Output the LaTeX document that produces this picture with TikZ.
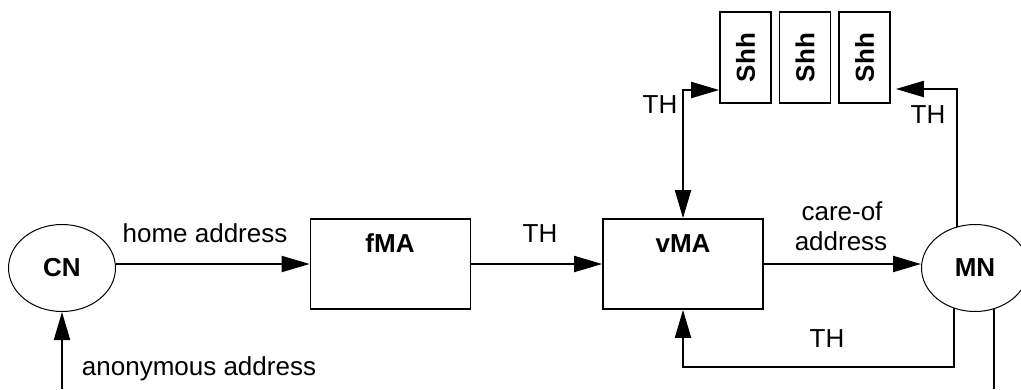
\documentclass[tikz,border=0pt]{standalone}
\usepackage{fontspec}
\usepackage{graphicx}
\setmainfont{Liberation Sans}
\usetikzlibrary{arrows.meta,shapes.geometric}
\begin{document}
\begin{tikzpicture}[x=1pt,y=-1pt,
  font=\fontsize{26}{30}\selectfont,
  conn/.style={line width=2pt},
  arr/.style={conn,-{Triangle[length=28pt,width=16pt]}},
  darr/.style={conn,{Triangle[length=28pt,width=16pt]}-{Triangle[length=28pt,width=16pt]}},
  box/.style={draw,line width=1.7pt,minimum width=160pt,minimum height=90pt,inner sep=0pt},
  host/.style={ellipse,draw,line width=1pt,minimum width=107pt,minimum height=87pt,inner sep=0pt,font=\fontsize{26}{30}\selectfont\bfseries},
  shh/.style={draw,line width=1.7pt,minimum width=51pt,minimum height=91pt,inner sep=0pt,font=\fontsize{26}{30}\selectfont\bfseries},
  lbl/.style={anchor=base,inner sep=0pt},
  blbl/.style={lbl,font=\fontsize{26}{30}\selectfont\bfseries}]
\useasboundingbox (0,0) rectangle (1021,389);

\node[host] (cn) at (62,268) {CN};
\node[host] (mn) at (975,268) {MN};
\node[box] (fma) at (390.5,264) {};
\node[box] (vma) at (683,264) {};
\node[blbl] (fmat) at (390,252) {fMA};
\node[blbl] (vmat) at (683,252) {vMA};
\node[shh] (s1) at (745.5,57.5) {\rotatebox{90}{Shh}};
\node[shh] (s2) at (805,57.5) {\rotatebox{90}{Shh}};
\node[shh] (s3) at (864.5,57.5) {\rotatebox{90}{Shh}};

% connectors
\draw[arr] (cn.east |- fma.west) -- (fma.west);
\draw[arr] (fma.east) -- (vma.west);
\draw[arr] (vma.east) -- (vma.east -| mn.west);
\coordinate (cnb) at (62,389);
\draw[arr] (cnb) -- (cn.south);
\coordinate (mnb) at (mn.-65 |- 0,389);
\draw[conn] (mn.-65) -- (mnb);
\coordinate (bl) at (vma.south |- 0,367);
\draw[arr] (mn.242) |- (bl) -- (vma.south);
\coordinate (tl) at (vma.north |- 0,90);
\draw[darr] (vma.north) -- (tl) -- (tl -| s1.west);
\coordinate (tr) at (mn.114 |- 0,89);
\draw[arr,shorten >=5pt] (mn.114) -- (tr) -- (tr -| s3.east);

% labels
\node[lbl] (l1) at (205,242) {home address};
\node[lbl] (l2) at (540,242) {TH};
\node[lbl] (l3) at (842,220) {care-of};
\node[lbl] (l4) at (841,250) {address};
\node[lbl] (l5) at (827,347) {TH};
\node[lbl] (l6) at (660,113) {TH};
\node[lbl] (l7) at (928,123) {TH};
\node[lbl] (l8) at (199,375) {anonymous address};
\end{tikzpicture}
\end{document}
